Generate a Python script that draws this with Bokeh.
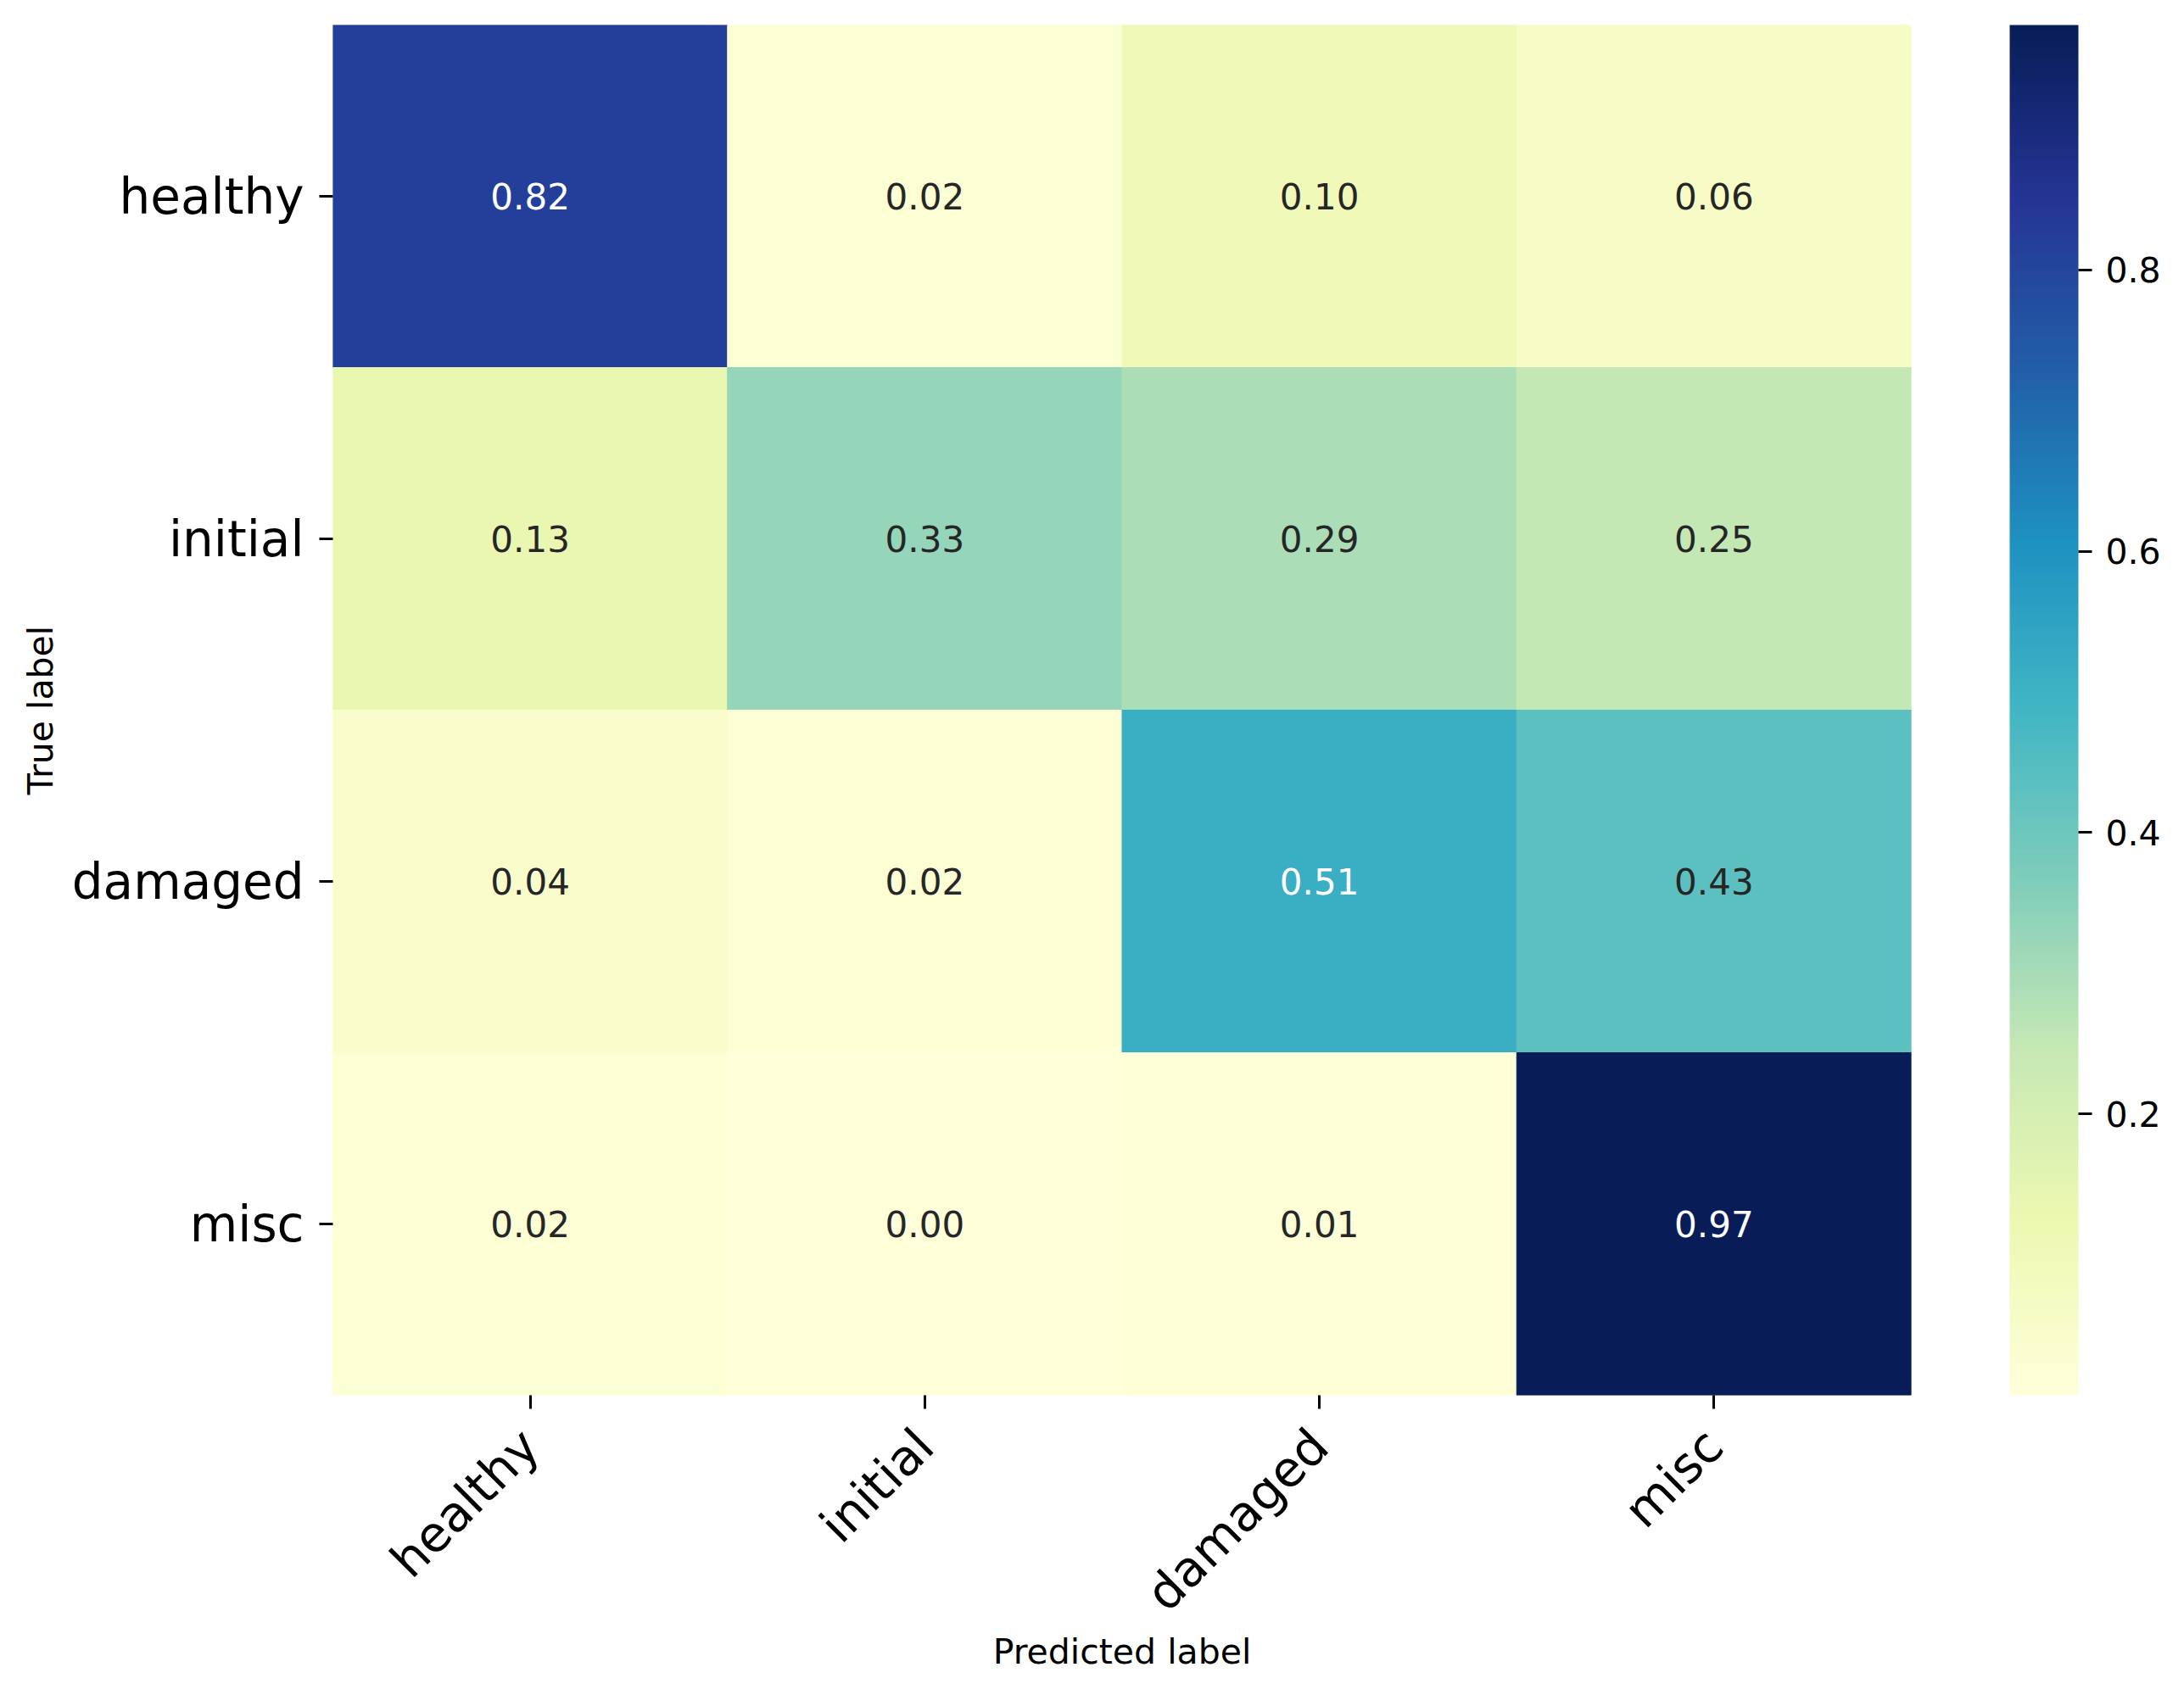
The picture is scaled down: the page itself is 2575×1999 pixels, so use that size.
import numpy as np
from math import pi
from bokeh.plotting import figure
from bokeh.models import (ColumnDataSource, FactorRange, LinearColorMapper, ColorBar,
                          FixedTicker, PrintfTickFormatter)
from bokeh.core.properties import value
from bokeh.embed import file_html
from bokeh.resources import INLINE

# ---- data ----
classes = ["healthy", "initial", "damaged", "misc"]
row_healthy = [0.82, 0.02, 0.10, 0.06]
row_initial = [0.13, 0.33, 0.29, 0.25]
row_damaged = [0.04, 0.02, 0.51, 0.43]
row_misc = [0.02, 0.00, 0.01, 0.974]
colorbar_ticks = [0.2, 0.4, 0.6, 0.8]
x_title = "Predicted label"
y_title = "True label"

rows = [row_healthy, row_initial, row_damaged, row_misc]

# ---- YlGnBu palette (256 steps from the 9 ColorBrewer anchors) ----
anchors = ['#ffffd9', '#edf8b1', '#c7e9b4', '#7fcdbb', '#41b6c4',
           '#1d91c0', '#225ea8', '#253494', '#081d58']
anc = np.array([[int(c[i:i + 2], 16) for i in (1, 3, 5)] for c in anchors], dtype=float)
pos = np.linspace(0, 1, len(anchors))
t = np.linspace(0, 1, 256)
palette = []
for tv in t:
    r = np.interp(tv, pos, anc[:, 0]); g = np.interp(tv, pos, anc[:, 1]); b = np.interp(tv, pos, anc[:, 2])
    palette.append('#%02x%02x%02x' % (int(round(r)), int(round(g)), int(round(b))))

xs, ys, vals, labels, tcolors = [], [], [], [], []
for true_lab, row in zip(classes, rows):
    for pred_lab, v in zip(classes, row):
        xs.append(pred_lab)
        ys.append(true_lab)
        vals.append(v)
        labels.append("%.2f" % v)
        tcolors.append("#ffffff" if v > 0.47 else "#262626")

all_vals = [v for r in rows for v in r]
mapper = LinearColorMapper(palette=palette, low=min(all_vals), high=max(all_vals))

src = ColumnDataSource(dict(x=xs, y=ys, v=vals, label=labels, tc=tcolors))

FONT = "DejaVu Sans"

p = figure(x_range=FactorRange(factors=classes),
           y_range=FactorRange(factors=list(reversed(classes))),
           frame_width=1861, frame_height=1616,
           min_border_left=392, min_border_right=306, min_border_top=29, min_border_bottom=338,
           output_backend="svg", toolbar_location=None, tools="")

p.rect(x="x", y="y", width=1, height=1, source=src,
       fill_color={'field': 'v', 'transform': mapper},
       line_color={'field': 'v', 'transform': mapper}, line_width=1)

p.text(x="x", y="y", text="label", source=src, text_align="center", text_baseline="middle",
       text_color="tc", text_font=value(FONT), text_font_size="42px")

p.grid.visible = False
p.outline_line_color = None
p.background_fill_color = "white"
p.border_fill_color = "white"

for ax in (p.xaxis, p.yaxis):
    ax.axis_line_color = None
    ax.major_tick_out = 16
    ax.major_tick_in = 0
    ax.major_tick_line_width = 3
    ax.major_tick_line_color = "black"
    ax.minor_tick_line_color = None
    ax.major_label_text_font = FONT
    ax.major_label_text_font_size = "58px"
    ax.major_label_text_color = "black"
    ax.axis_label_text_font = FONT
    ax.axis_label_text_font_size = "41px"
    ax.axis_label_text_font_style = "normal"
    ax.axis_label_text_color = "black"

p.xaxis.axis_label = x_title
p.yaxis.axis_label = y_title
p.xaxis.major_label_orientation = pi / 4
p.xaxis.major_label_standoff = 34
p.yaxis.major_label_standoff = 18
p.xaxis.axis_label_standoff = -16
p.yaxis.axis_label_standoff = 10

cb = ColorBar(color_mapper=mapper, width=81, height=1616, location=(116, 0),
              padding=0, margin=0,
              ticker=FixedTicker(ticks=colorbar_ticks),
              formatter=PrintfTickFormatter(format="%.1f"),
              major_label_text_font=FONT, major_label_text_font_size="41px",
              major_label_text_color="black",
              major_tick_out=16, major_tick_in=0, major_tick_line_width=3,
              major_tick_line_color="black", minor_tick_line_color=None,
              label_standoff=16, bar_line_color=None, border_line_color=None,
              background_fill_color=None)
p.add_layout(cb, "right")

open("out.html", "w").write(file_html(p, INLINE))
